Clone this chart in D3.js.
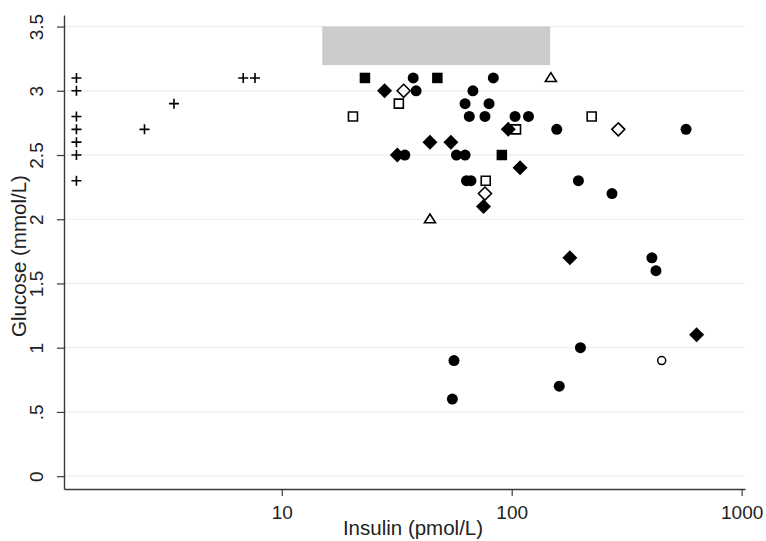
<!DOCTYPE html>
<html>
<head>
<meta charset="utf-8">
<script src="https://cdn.jsdelivr.net/npm/d3@7"></script>
<style>
  body { margin: 0; background: #fff; }
  text { font-family: "Liberation Sans", Arial, sans-serif; fill: #222; }
</style>
</head>
<body>
<div id="chart"></div>
<script>
const width = 766;
const height = 541;
const margin = {top: 15, right: 21, bottom: 52, left: 64};

// [insulin pmol/L, glucose mmol/L] per marker group
const plusPts = [[1.28, 3.1], [1.28, 3.0], [1.28, 2.8], [1.28, 2.7], [1.28, 2.6], [1.28, 2.5], [1.28, 2.3],
                 [2.53, 2.7], [3.4, 2.9], [6.8, 3.1], [7.65, 3.1]];
const filledSquarePts = [[23, 3.1], [47.5, 3.1], [90.6, 2.5]];
const filledDiamondPts = [[28, 3.0], [96.6, 2.7], [44.1, 2.6], [54.4, 2.6], [31.8, 2.5], [108.7, 2.4],
                          [75.4, 2.1], [179, 1.7], [637, 1.1]];
const filledCirclePts = [[37.3, 3.1], [83.2, 3.1], [38.4, 3.0], [67.8, 3.0], [62.7, 2.9], [79.7, 2.9],
                         [65.4, 2.8], [76.5, 2.8], [103.4, 2.8], [118.3, 2.8], [157, 2.7], [573, 2.7],
                         [34.3, 2.5], [57.5, 2.5], [62.7, 2.5], [195, 2.3], [63.6, 2.3], [66.5, 2.3],
                         [273, 2.2], [407, 1.7], [424, 1.6], [199, 1.0], [56.1, 0.9], [161, 0.7], [55.2, 0.6]];
const openSquarePts = [[32.3, 2.9], [20.4, 2.8], [222.7, 2.8], [104.4, 2.7], [77.1, 2.3]];
const openDiamondPts = [[33.9, 3.0], [290.8, 2.7], [76.5, 2.2]];
const openTrianglePts = [[148, 3.1], [44.1, 2.0]];
const openCirclePts = [[449, 0.9]];

// shaded reference range
const refInsulin = [15, 147];
const refGlucose = [3.2, 3.5];

const xTicks = [10, 100, 1000];
const yTicks = [0, 0.5, 1, 1.5, 2, 2.5, 3, 3.5];
const yTickLabels = ["0", ".5", "1", "1.5", "2", "2.5", "3", "3.5"];

const svg = d3.select("#chart").append("svg")
              .attr("width", width)
              .attr("height", height);

const x = d3.scaleLog().domain([1.13, 1034]).range([margin.left, width - margin.right]);
const y = d3.scaleLinear().domain([-0.1, 3.59]).range([height - margin.bottom, margin.top]);

// gridlines
svg.append("g").selectAll("line")
  .data(yTicks)
  .join("line")
  .attr("x1", margin.left)
  .attr("x2", width - margin.right)
  .attr("y1", d => y(d))
  .attr("y2", d => y(d))
  .attr("stroke", "#e6eef3")
  .attr("stroke-width", 1.2);

svg.append("rect")
  .attr("x", x(refInsulin[0]))
  .attr("y", y(refGlucose[1]))
  .attr("width", x(refInsulin[1]) - x(refInsulin[0]))
  .attr("height", y(refGlucose[0]) - y(refGlucose[1]))
  .attr("fill", "#cccccc");

// axes
const xAxis = svg.append("g")
  .attr("transform", `translate(0,${height - margin.bottom})`)
  .call(d3.axisBottom(x).tickValues(xTicks).tickFormat(d3.format("d")).tickSize(7).tickSizeOuter(0));
xAxis.selectAll("text").attr("y", 30).attr("dy", 0).style("font-size", "19px");

const yAxis = svg.append("g")
  .attr("transform", `translate(${margin.left},0)`)
  .call(d3.axisLeft(y).tickValues(yTicks).tickFormat((d, i) => yTickLabels[i]).tickSize(7).tickSizeOuter(0));
yAxis.selectAll("text")
  .attr("transform", "rotate(-90)")
  .attr("x", 0)
  .attr("y", -21)
  .attr("dy", 0)
  .attr("text-anchor", "middle")
  .style("font-size", "19px");

[xAxis, yAxis].forEach(g => {
  g.select(".domain").attr("stroke", "#3a3a3a").attr("stroke-width", 1.4);
  g.selectAll(".tick line").attr("stroke", "#3a3a3a").attr("stroke-width", 1.2);
});

svg.append("text")
  .attr("x", 413)
  .attr("y", 535)
  .attr("text-anchor", "middle")
  .style("font-size", "20.5px")
  .text("Insulin (pmol/L)");

svg.append("text")
  .attr("transform", `translate(26,256) rotate(-90)`)
  .attr("text-anchor", "middle")
  .style("font-size", "20.5px")
  .text("Glucose (mmol/L)");

// marker shapes
const circle = r => ({draw(c) { c.moveTo(r, 0); c.arc(0, 0, r, 0, 2 * Math.PI); }});
const square = s => ({draw(c) { c.rect(-s / 2, -s / 2, s, s); }});
const diamond = r => ({draw(c) { c.moveTo(0, -r); c.lineTo(r, 0); c.lineTo(0, r); c.lineTo(-r, 0); c.closePath(); }});
const triangle = s => ({draw(c) {
  const h = s * 0.8;
  c.moveTo(0, -h * 0.6); c.lineTo(s / 2, h * 0.4); c.lineTo(-s / 2, h * 0.4); c.closePath();
}});
const plus = s => ({draw(c) { c.moveTo(-s / 2, 0); c.lineTo(s / 2, 0); c.moveTo(0, -s / 2); c.lineTo(0, s / 2); }});

const groups = [
  {pts: plusPts, type: plus(10), fill: "none", stroke: "#000", sw: 1.6},
  {pts: filledSquarePts, type: square(10.5), fill: "#000", stroke: "none", sw: 0},
  {pts: filledDiamondPts, type: diamond(7.5), fill: "#000", stroke: "none", sw: 0},
  {pts: filledCirclePts, type: circle(5.5), fill: "#000", stroke: "none", sw: 0},
  {pts: openSquarePts, type: square(9), fill: "none", stroke: "#000", sw: 1.6},
  {pts: openDiamondPts, type: diamond(6.5), fill: "none", stroke: "#000", sw: 1.6},
  {pts: openTrianglePts, type: triangle(11), fill: "none", stroke: "#000", sw: 1.6},
  {pts: openCirclePts, type: circle(4), fill: "none", stroke: "#000", sw: 1.5}
];

groups.forEach(g => {
  svg.append("g").selectAll("path")
    .data(g.pts)
    .join("path")
    .attr("transform", d => `translate(${x(d[0])},${y(d[1])})`)
    .attr("d", d3.symbol().type(g.type))
    .attr("fill", g.fill)
    .attr("stroke", g.stroke)
    .attr("stroke-width", g.sw);
});
</script>
</body>
</html>
